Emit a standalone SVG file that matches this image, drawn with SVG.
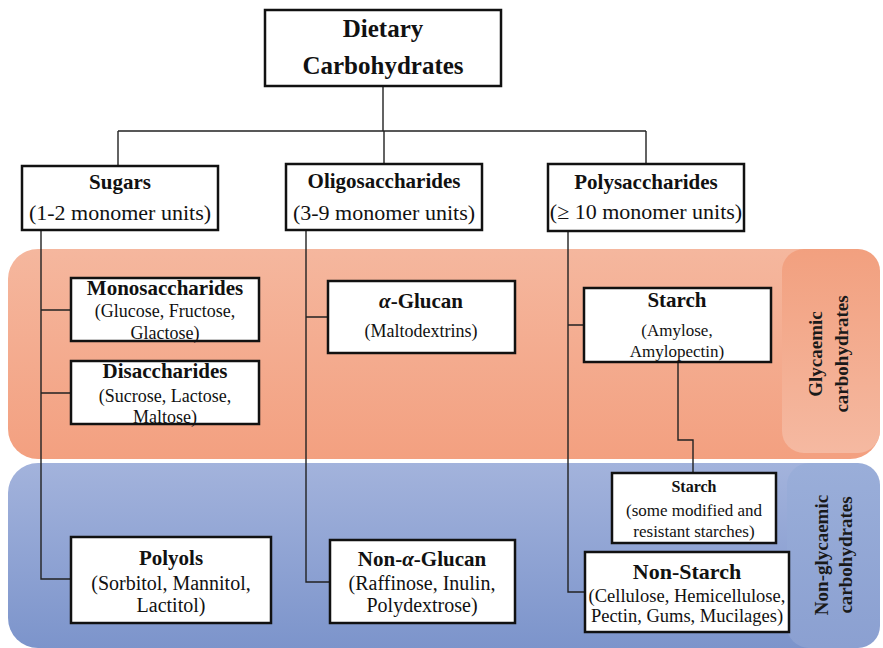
<svg xmlns="http://www.w3.org/2000/svg" width="883" height="648" viewBox="0 0 883 648" font-family="'Liberation Serif','Times New Roman',serif">
<defs>
<linearGradient id="pink" x1="0" y1="0" x2="0" y2="1"><stop offset="0" stop-color="#f5b79e"/><stop offset="1" stop-color="#f3a080"/></linearGradient>
<linearGradient id="pinkLbl" x1="0" y1="0" x2="0" y2="1"><stop offset="0" stop-color="#f2a07f"/><stop offset="1" stop-color="#f5b9a1"/></linearGradient>
<linearGradient id="blue" x1="0" y1="0" x2="0" y2="1"><stop offset="0" stop-color="#a3b3dc"/><stop offset="1" stop-color="#7c94cb"/></linearGradient>
<linearGradient id="blueLbl" x1="0" y1="0" x2="0" y2="1"><stop offset="0" stop-color="#9aaed9"/><stop offset="1" stop-color="#8ba0d1"/></linearGradient>
</defs>
<style>
text{font-family:"Liberation Serif","Times New Roman",serif;fill:#111;text-anchor:middle}
.box{fill:#fff;stroke:#111;stroke-width:2.5}
.b{font-weight:bold}
.conn{fill:none;stroke:#222;stroke-width:1.4}
.lbl{font-weight:bold;font-size:19px;fill:#1a1a1a}
</style>
<rect width="883" height="648" fill="#fff"/>
<g id="bands">
<rect x="8" y="249" width="872" height="210" rx="30" fill="url(#pink)"/>
<rect x="8" y="463" width="872" height="185" rx="30" fill="url(#blue)"/>
<rect x="782" y="249" width="98" height="204" rx="22" fill="url(#pinkLbl)"/>
<rect x="787" y="463" width="93" height="185" rx="22" fill="url(#blueLbl)"/>
</g>
<g id="connectors" class="conn">
<path d="M383,86V131M118,131H646M118,131V166M384,131V164M646,131V164"/>
<path d="M41,230V579H71M41,310H71M41,393H71"/>
<path d="M306,230V582H330M306,317H328"/>
<path d="M568,231V592H585M568,325H584"/>
<path d="M678,362V440H693V473"/>
</g>
<g id="root">
<rect class="box" x="265" y="10" width="236" height="76"/>
<text class="b" x="383" y="37" font-size="25">Dietary</text>
<text class="b" x="383" y="74" font-size="25">Carbohydrates</text>
</g>
<g id="sugars">
<rect class="box" x="22" y="166" width="196" height="64"/>
<text class="b" x="120" y="189" font-size="21">Sugars</text>
<text x="120" y="220" font-size="22">(1-2 monomer units)</text>
</g>
<g id="oligo">
<rect class="box" x="286" y="164" width="196" height="66"/>
<text class="b" x="384" y="188" font-size="21">Oligosaccharides</text>
<text x="384" y="220" font-size="22">(3-9 monomer units)</text>
</g>
<g id="poly">
<rect class="box" x="548" y="164" width="196" height="67"/>
<text class="b" x="646" y="189" font-size="21">Polysaccharides</text>
<text x="646" y="219" font-size="22">(≥ 10 monomer units)</text>
</g>
<g id="mono">
<rect class="box" x="71" y="278" width="188" height="63"/>
<text class="b" x="165" y="295" font-size="21">Monosaccharides</text>
<text x="165" y="317" font-size="18">(Glucose, Fructose,</text>
<text x="165" y="339" font-size="18">Glactose)</text>
</g>
<g id="di">
<rect class="box" x="71" y="361" width="188" height="63"/>
<text class="b" x="165" y="378" font-size="21">Disaccharides</text>
<text x="165" y="402" font-size="18">(Sucrose, Lactose,</text>
<text x="165" y="423" font-size="18">Maltose)</text>
</g>
<g id="aglucan">
<rect class="box" x="328" y="281" width="187" height="72"/>
<text class="b" x="421" y="308" font-size="21"><tspan font-style="italic">α</tspan>-Glucan</text>
<text x="421" y="337" font-size="18">(Maltodextrins)</text>
</g>
<g id="starch">
<rect class="box" x="584" y="288" width="187" height="74"/>
<text class="b" x="677" y="307" font-size="21">Starch</text>
<text x="677" y="336" font-size="17">(Amylose,</text>
<text x="677" y="357" font-size="17">Amylopectin)</text>
</g>
<g id="polyols">
<rect class="box" x="71" y="537" width="200" height="86"/>
<text class="b" x="171" y="565" font-size="21">Polyols</text>
<text x="171" y="590" font-size="20">(Sorbitol, Mannitol,</text>
<text x="171" y="612" font-size="20">Lactitol)</text>
</g>
<g id="nonaglucan">
<rect class="box" x="330" y="540" width="185" height="83"/>
<text class="b" x="422" y="566" font-size="21">Non-<tspan font-style="italic">α</tspan>-Glucan</text>
<text x="422" y="590" font-size="20">(Raffinose, Inulin,</text>
<text x="422" y="612" font-size="20">Polydextrose)</text>
</g>
<g id="starch2">
<rect class="box" x="612" y="473" width="164" height="70"/>
<text class="b" x="694" y="492" font-size="16">Starch</text>
<text x="694" y="516" font-size="17">(some modified and</text>
<text x="694" y="537" font-size="17">resistant starches)</text>
</g>
<g id="nonstarch">
<rect class="box" x="585" y="552" width="204" height="80"/>
<text class="b" x="687" y="579" font-size="22">Non-Starch</text>
<text x="687" y="602" font-size="18.5">(Cellulose, Hemicellulose,</text>
<text x="687" y="622" font-size="18.5">Pectin, Gums, Mucilages)</text>
</g>
<g id="glycaemic">
<text class="lbl" transform="translate(822,354) rotate(-90)">Glycaemic</text>
<text class="lbl" transform="translate(848,354) rotate(-90)">carbohydrates</text>
</g>
<g id="nonglycaemic">
<text class="lbl" transform="translate(828,555) rotate(-90)">Non-glycaemic</text>
<text class="lbl" transform="translate(852,555) rotate(-90)">carbohydrates</text>
</g>
</svg>
